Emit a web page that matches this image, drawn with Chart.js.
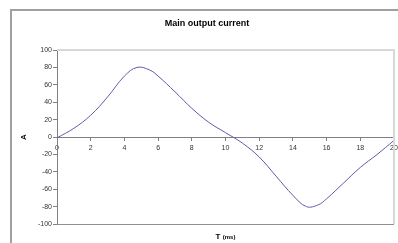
<!DOCTYPE html>
<html>
<head>
<meta charset="utf-8">
<script src="https://cdn.jsdelivr.net/npm/chart.js@4"></script>
<style>
    body { margin: 0; background: #fff; overflow: hidden; }
    #wrap { position: relative; width: 398px; height: 243px; overflow: hidden; }
    #frame { position: absolute; left: 10px; top: 9px; width: 420px; height: 300px; border: 2px solid #a0a0a0; }
    canvas { position: absolute; left: 0; top: 0; }
</style>
</head>
<body>
<div id="wrap">
    <div id="frame"></div>
    <canvas id="currentChart" width="398" height="243"></canvas>
</div>
<script>
// Main output current (A) over one period (ms)
const timeMs = [0, 1, 2, 3, 4, 4.75, 5.5, 6, 7, 8, 9, 10, 11, 12, 13, 14, 14.8, 15.5, 16, 17, 18, 19, 20];
const currentA = [-1, 10, 25, 46, 70, 80, 77, 70, 52, 33, 17, 5, -7, -23, -45, -67, -80, -78, -71, -53, -35, -20, -4];

const chartTitle = "Main output current";
const yTitle = "A";
const xTitle = "T";
const xUnit = "(ms)";

const points = timeMs.map((t, i) => ({ x: t, y: currentA[i] }));

// light frame round the plot area + x axis title
const plotFrame = {
    id: 'plotFrame',
    afterDraw(chart) {
        const { ctx, chartArea: a } = chart;
        ctx.save();
        ctx.strokeStyle = '#d8d8d8';
        ctx.lineWidth = 2;
        ctx.beginPath();
        ctx.moveTo(a.left, a.top);
        ctx.lineTo(a.right, a.top);
        ctx.lineTo(a.right, a.bottom);
        ctx.stroke();
        ctx.strokeStyle = '#909090';
        ctx.lineWidth = 1;
        ctx.beginPath();
        ctx.moveTo(a.left, a.bottom + 0.5);
        ctx.lineTo(a.right, a.bottom + 0.5);
        ctx.stroke();

        // x axis title
        ctx.fillStyle = '#000';
        ctx.textBaseline = 'middle';
        ctx.font = 'bold 8px "Liberation Sans", Arial, sans-serif';
        const w1 = ctx.measureText(xTitle + ' ').width;
        ctx.font = 'bold 6px "Liberation Sans", Arial, sans-serif';
        const w2 = ctx.measureText(xUnit).width;
        const x0 = (a.left + a.right) / 2 - (w1 + w2) / 2;
        ctx.font = 'bold 8px "Liberation Sans", Arial, sans-serif';
        ctx.fillText(xTitle + ' ', x0, 237);
        ctx.font = 'bold 6px "Liberation Sans", Arial, sans-serif';
        ctx.fillText(xUnit, x0 + w1, 237.5);
        ctx.restore();
    }
};

const ctx = document.getElementById('currentChart').getContext('2d');

new Chart(ctx, {
    type: 'line',
    data: {
        datasets: [{
            data: points,
            borderColor: '#5c5caa',
            borderWidth: 1,
            pointRadius: 0,
            fill: false,
            tension: 0.4
        }]
    },
    options: {
        responsive: false,
        animation: false,
        layout: { padding: { left: 20, right: 4, top: 0, bottom: 19 } },
        plugins: {
            legend: { display: false },
            tooltip: { enabled: false },
            title: {
                display: true,
                text: chartTitle,
                color: '#000',
                font: { family: '"Liberation Sans", Arial, sans-serif', size: 9, weight: 'bold', lineHeight: 1.2 },
                padding: { top: 18, bottom: 21.2 }
            }
        },
        scales: {
            x: {
                type: 'linear',
                position: { y: 0 },
                min: 0,
                max: 20,
                afterFit(scale) { scale.paddingLeft = 0; scale.paddingRight = 0; },
                ticks: {
                    stepSize: 2,
                    color: '#333',
                    padding: 4,
                    maxRotation: 0,
                    font: { family: '"Liberation Sans", Arial, sans-serif', size: 7 }
                },
                grid: { drawOnChartArea: false, drawTicks: true, tickLength: 3, color: '#808080' },
                border: { color: '#808080' }
            },
            y: {
                min: -100,
                max: 100,
                afterFit(scale) { scale.width = 37; },
                ticks: {
                    stepSize: 20,
                    color: '#333',
                    padding: 1,
                    font: { family: '"Liberation Sans", Arial, sans-serif', size: 7 }
                },
                grid: { drawOnChartArea: false, drawTicks: true, tickLength: 4, color: '#808080' },
                border: { color: '#808080' },
                title: {
                    display: true,
                    text: yTitle,
                    color: '#000',
                    padding: { top: 0, bottom: 0 },
                    font: { family: '"Liberation Sans", Arial, sans-serif', size: 8, weight: 'bold', lineHeight: 1 }
                }
            }
        }
    },
    plugins: [plotFrame]
});
</script>
</body>
</html>
